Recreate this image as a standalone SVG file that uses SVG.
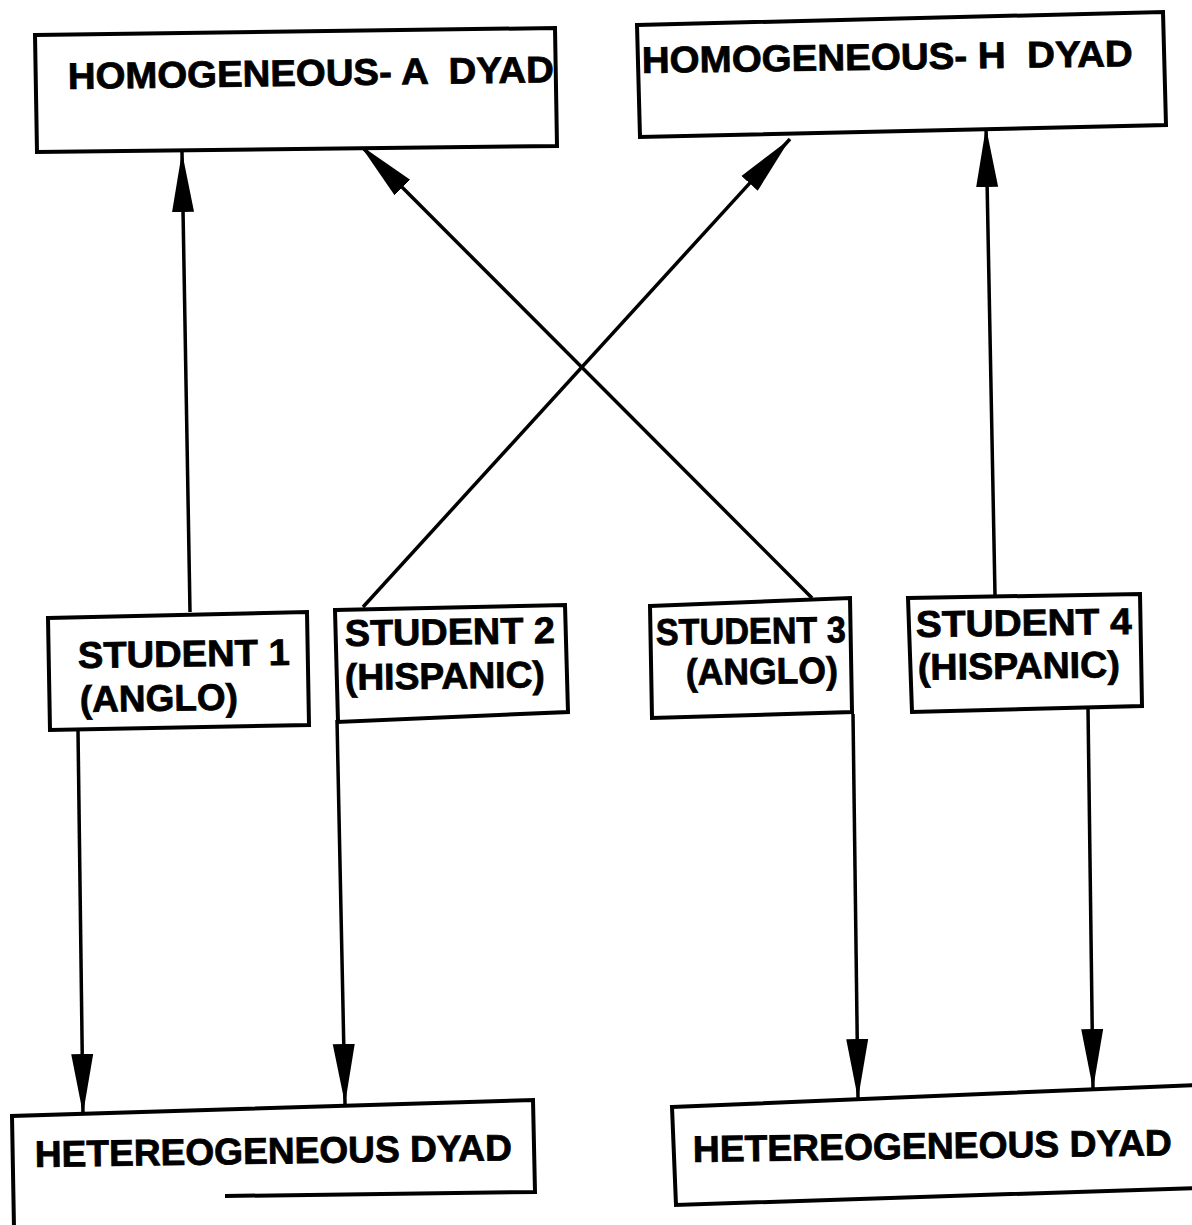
<svg xmlns="http://www.w3.org/2000/svg" width="1192" height="1225" viewBox="0 0 1192 1225">
<style>
.box{fill:#fff;stroke:#000;stroke-width:4;stroke-linejoin:miter}
.edge{fill:none;stroke:#000;stroke-width:4}
.t{font-family:"Liberation Sans",Arial,sans-serif;font-weight:bold;font-size:37px;fill:#000;stroke:#000;stroke-width:0.8;white-space:pre}
.c line{stroke:#000;stroke-width:3.5}
</style>
<defs>
<marker id="ah" markerUnits="userSpaceOnUse" markerWidth="62" markerHeight="26" viewBox="0 0 62 26" refX="60" refY="13" orient="auto">
<path d="M0,2 L60,13 L0,24 Z" fill="#000"/>
</marker>
</defs>
<g class="c" id="connectors">
<line x1="190" y1="612" x2="182" y2="152" marker-end="url(#ah)"/>
<line x1="812" y1="598" x2="360" y2="145" marker-end="url(#ah)"/>
<line x1="363" y1="607" x2="790" y2="139" marker-end="url(#ah)"/>
<line x1="995" y1="595" x2="986" y2="127" marker-end="url(#ah)"/>
<line x1="78" y1="730" x2="83" y2="1114" marker-end="url(#ah)"/>
<line x1="337" y1="720" x2="345" y2="1104" marker-end="url(#ah)"/>
<line x1="853" y1="714" x2="858" y2="1099" marker-end="url(#ah)"/>
<line x1="1088" y1="708" x2="1093" y2="1089" marker-end="url(#ah)"/>
</g>
<g id="homA">
<polygon class="box" points="35,35 555,28 557,146 37,152"/>
<text class="t" x="68" y="89" textLength="486" lengthAdjust="spacingAndGlyphs" transform="rotate(-0.8 68 89)">HOMOGENEOUS- A  DYAD</text>
</g>
<g id="homH">
<polygon class="box" points="637,25 1163,12 1166,125 640,137"/>
<text class="t" x="642" y="73" textLength="491" lengthAdjust="spacingAndGlyphs" transform="rotate(-0.8 642 73)">HOMOGENEOUS- H  DYAD</text>
</g>
<g id="student1">
<polygon class="box" points="48,618 307,612 309,725 50,730"/>
<text class="t" x="78" y="668" textLength="212" lengthAdjust="spacingAndGlyphs" transform="rotate(-0.8 78 668)">STUDENT 1</text>
<text class="t" x="80" y="712" textLength="158" lengthAdjust="spacingAndGlyphs" transform="rotate(-0.8 80 712)">(ANGLO)</text>
</g>
<g id="student2">
<polygon class="box" points="335,610 565,605 568,712 338,722"/>
<text class="t" x="345" y="646" textLength="210" lengthAdjust="spacingAndGlyphs" transform="rotate(-0.8 345 646)">STUDENT 2</text>
<text class="t" x="345" y="690" textLength="200" lengthAdjust="spacingAndGlyphs" transform="rotate(-0.8 345 690)">(HISPANIC)</text>
</g>
<g id="student3">
<polygon class="box" points="650,606 850,598 852,712 652,718"/>
<text class="t" x="656" y="645" textLength="190" lengthAdjust="spacingAndGlyphs" transform="rotate(-0.8 656 645)">STUDENT 3</text>
<text class="t" x="686" y="685" textLength="152" lengthAdjust="spacingAndGlyphs" transform="rotate(-0.8 686 685)">(ANGLO)</text>
</g>
<g id="student4">
<polygon class="box" points="908,598 1140,594 1142,706 912,712"/>
<text class="t" x="916" y="637" textLength="216" lengthAdjust="spacingAndGlyphs" transform="rotate(-0.8 916 637)">STUDENT 4</text>
<text class="t" x="918" y="680" textLength="202" lengthAdjust="spacingAndGlyphs" transform="rotate(-0.8 918 680)">(HISPANIC)</text>
</g>
<g id="hetLeft">
<polygon points="12,1116 533,1100 535,1192 14,1230" fill="#fff"/>
<path class="edge" d="M14,1228 L12,1116 L533,1100 L535,1192 L225,1196"/>
<text class="t" x="35" y="1167" textLength="477" lengthAdjust="spacingAndGlyphs" transform="rotate(-0.8 35 1167)">HETEREOGENEOUS DYAD</text>
</g>
<g id="hetRight">
<polygon class="box" points="672,1107 1196,1085 1196,1188 676,1205"/>
<text class="t" x="693" y="1162" textLength="479" lengthAdjust="spacingAndGlyphs" transform="rotate(-0.8 693 1162)">HETEREOGENEOUS DYAD</text>
</g>
</svg>
